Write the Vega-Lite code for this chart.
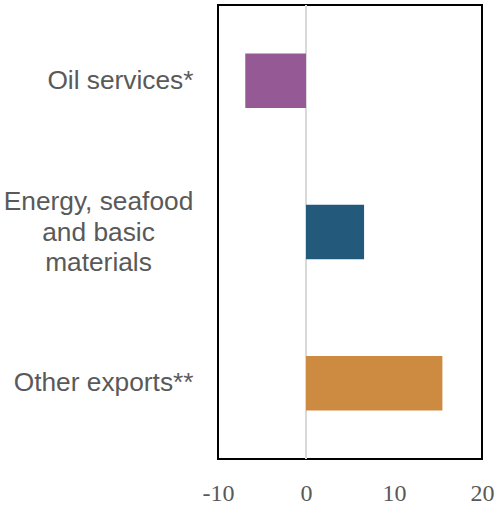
{
  "$schema": "https://vega.github.io/schema/vega-lite/v6.json",
  "autosize": "none",
  "width": 264,
  "height": 454,
  "padding": {"left": 218, "top": 5, "right": 14, "bottom": 48},
  "background": "white",
  "config": {
    "view": {"stroke": "#000000", "strokeWidth": 2},
    "axis": {"grid": false, "domain": false, "ticks": false, "title": null}
  },
  "data": {
    "values": [
      {"category": "Oil services*", "value": -6.9},
      {"category": "Energy, seafood and basic materials", "value": 6.6},
      {"category": "Other exports**", "value": 15.5}
    ]
  },
  "layer": [
    {
      "mark": {"type": "rule", "color": "#d9d9d9", "strokeWidth": 2},
      "encoding": {
        "x": {"datum": 0, "type": "quantitative", "scale": {"domain": [-10, 20]}}
      }
    },
    {
      "mark": {"type": "bar"},
      "encoding": {
        "y": {
          "field": "category",
          "type": "nominal",
          "sort": null,
          "scale": {"paddingInner": 0.64, "paddingOuter": 0.32},
          "axis": {
            "labelFont": "Liberation Sans",
            "labelFontSize": 26.3,
            "labelColor": "#595959",
            "labelLimit": 300,
            "labelLineHeight": 30.5,
            "labelExpr": "datum.value == 'Energy, seafood and basic materials' ? ['Energy, seafood', 'and basic', 'materials'] : datum.value",
            "labelAlign": {"condition": {"test": "datum.value == 'Energy, seafood and basic materials'", "value": "center"}, "value": "right"},
            "labelPadding": {"condition": {"test": "datum.value == 'Energy, seafood and basic materials'", "value": 120}, "value": 25},
            "labelOffset": {"condition": {"test": "datum.value == 'Energy, seafood and basic materials'", "value": -30}, "value": 0}
          }
        },
        "x": {
          "field": "value",
          "type": "quantitative",
          "scale": {"domain": [-10, 20], "nice": false},
          "axis": {
            "values": [-10, 0, 10, 20],
            "labelExpr": "datum.value < 0 ? '-' + abs(datum.value) : datum.label",
            "labelFont": "Liberation Serif",
            "labelFontSize": 24,
            "labelColor": "#595959",
            "labelPadding": 22,
            "labelFlush": false
          }
        },
        "color": {
          "field": "category",
          "type": "nominal",
          "scale": {
            "domain": ["Oil services*", "Energy, seafood and basic materials", "Other exports**"],
            "range": ["#955a95", "#235a7c", "#cd8a41"]
          },
          "legend": null
        }
      }
    }
  ]
}
